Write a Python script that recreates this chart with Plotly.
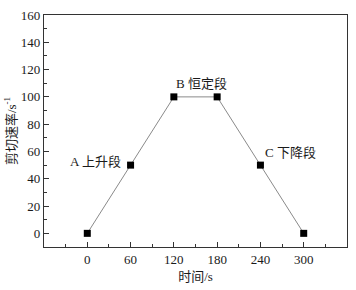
import plotly.graph_objects as go

time_s = [0, 60, 120, 180, 240, 300]
shear_rate = [0, 50, 100, 100, 50, 0]
stage_labels = ["A 上升段", "B 恒定段", "C 下降段"]
stage_x = [-27, 120, 243]
stage_y = [53, 110, 59]

FONT = "Liberation Serif, Noto Sans CJK SC, serif"
TXT = "#1a1a1a"

fig = go.Figure()
fig.add_trace(go.Scatter(
    x=time_s, y=shear_rate, mode="lines+markers",
    line=dict(color="#8a8a8a", width=1),
    marker=dict(symbol="square", size=7, color="black"),
    showlegend=False,
))
for t, x, y in zip(stage_labels, stage_x, stage_y):
    fig.add_annotation(x=x, y=y, text=t, showarrow=False, xanchor="left",
                       font=dict(family=FONT, size=13, color=TXT))

axis_common = dict(
    showline=True, linecolor="#333", linewidth=1.2, mirror=True,
    ticks="inside", ticklen=5, tickcolor="#333", tickwidth=1,
    showgrid=False, zeroline=False,
    tickfont=dict(family=FONT, size=13, color=TXT),
)
fig.update_xaxes(range=[-60, 360], tickvals=[0, 60, 120, 180, 240, 300],
                 minor=dict(dtick=30, tick0=0, ticks="inside", ticklen=3, tickcolor="#333"),
                 title=dict(text="时间/s", font=dict(family=FONT, size=13, color=TXT), standoff=6),
                 **axis_common)
fig.update_yaxes(range=[-10, 160], dtick=20, tick0=0,
                 minor=dict(dtick=10, tick0=0, ticks="inside", ticklen=3, tickcolor="#333"),
                 title=dict(text="剪切速率/s<sup>-1</sup>", font=dict(family=FONT, size=13, color=TXT), standoff=1),
                 **axis_common)
fig.update_layout(
    width=356, height=290,
    margin=dict(l=44, r=8, t=10, b=40),
    plot_bgcolor="white", paper_bgcolor="white",
)
fig.write_html("out.html")
